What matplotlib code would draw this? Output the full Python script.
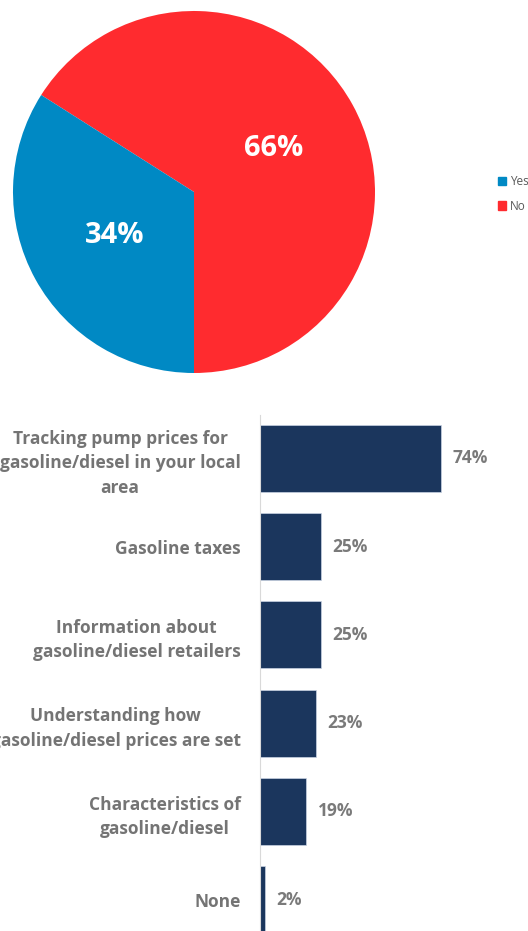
import matplotlib
matplotlib.use("Agg")
import matplotlib.pyplot as plt
from matplotlib.patches import Patch

plt.rcParams['font.family'] = ['Open Sans', 'DejaVu Sans']

# pie: yes / no shares
pie_labels = ["Yes", "No"]
pie_values = [34, 66]
pie_colors = ["#0089C4", "#FF2B2F"]

# bars: topics of interest
topics = [
    "Tracking pump prices for\ngasoline/diesel in your local\narea",
    "Gasoline taxes",
    "Information about\ngasoline/diesel retailers",
    "Understanding how\ngasoline/diesel prices are set",
    "Characteristics of\ngasoline/diesel",
    "None",
]
shares = [74, 25, 25, 23, 19, 2]

W, H = 528, 931
fig = plt.figure(figsize=(W / 100, H / 100), dpi=100)

# --- pie ---
cx, cy, r = 194, 192, 181
ax1 = fig.add_axes([(cx - r) / W, (H - cy - r) / H, 2 * r / W, 2 * r / H])
# draw No first, starting at six o'clock, so Yes sits on the left
wedges, _, autotexts = ax1.pie(
    pie_values[::-1], colors=pie_colors[::-1], startangle=-90,
    autopct=lambda p: f"{p:.0f}%", pctdistance=0.5,
    textprops=dict(color="white", fontsize=21, fontweight="bold"))
ax1.set_xlim(-1, 1)
ax1.set_ylim(-1, 1)
ax1.set_aspect("equal")

fig.legend(
    handles=[Patch(color=c, label=l) for c, l in zip(pie_colors, pie_labels)],
    loc="upper left", bbox_to_anchor=(492 / W, 1 - 169 / H),
    frameon=False, fontsize=8.5, labelcolor="#595959",
    handlelength=0.7, handleheight=0.7, handletextpad=0.3,
    labelspacing=1.0, borderpad=0)

# --- bars ---
x0, top = 260, 415
px_per_pct = 181 / 74
ax2 = fig.add_axes([x0 / W, 0, 1 - x0 / W, (H - top) / H])
ypos = list(range(len(topics)))
bars = ax2.barh(ypos, shares, height=0.76, color="#1B365D",
                edgecolor="#C9D3E3", linewidth=0.5)
ax2.set_xlim(0, (W - x0) / px_per_pct)
c0, step = 458.3, 88.3
ax2.set_ylim((H - c0) / step, (top - c0) / step)

for b, v in zip(bars, shares):
    ax2.annotate(f"{v}%", (b.get_width(), b.get_y() + b.get_height() / 2),
                 xytext=(8, 0), textcoords="offset points", va="center",
                 ha="left", fontsize=12.5, fontweight="bold", color="#7A7A7A")

ax2.set_yticks(ypos)
ax2.set_yticklabels(topics, fontsize=12.5, fontweight="bold", color="#747474",
                    multialignment="center", linespacing=1.45)
ax2.tick_params(axis="y", length=0, pad=14)
ax2.set_xticks([])
for s in ["top", "right", "bottom"]:
    ax2.spines[s].set_visible(False)
ax2.spines["left"].set_color("#D9D9D9")

fig.savefig("out.png", dpi=100)
